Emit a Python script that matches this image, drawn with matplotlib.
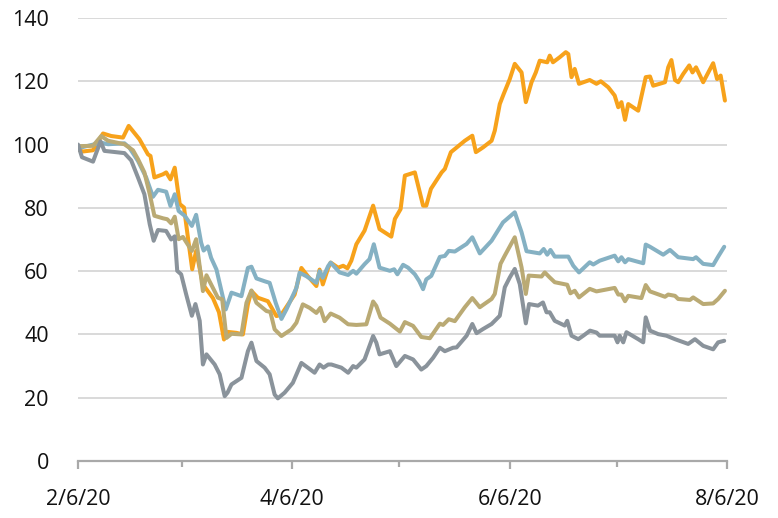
import datetime as dt
import numpy as np
import matplotlib
matplotlib.use("Agg")
import matplotlib.pyplot as plt
import matplotlib.dates as mdates
from matplotlib.ticker import FuncFormatter, FixedLocator

# days after 2020-02-06 and index levels
START = dt.datetime(2020, 2, 6)

orange_days = [0, 1.3, 4.2, 7.0, 9.3, 12.6, 14.2, 17.2, 19.6, 20.3, 21.4, 23.8, 24.7, 25.9, 27.1,
               28.5, 29.7, 30.8, 32.0, 33.1, 35.0, 37.8, 39.5, 40.9, 42.0, 44.4, 46.2, 47.6, 48.6,
               50.4, 53.2, 55.6, 57.0, 60.7, 62.6, 64.4, 66.8, 67.7, 68.6, 70.1, 70.8, 72.9, 74.3,
               75.5, 76.6, 78.0, 80.3, 82.7, 84.5, 87.8, 88.8, 90.4, 91.6, 94.4, 96.7, 97.6, 98.9,
               101.9, 102.8, 104.5, 105.6, 108.4, 110.5, 111.5, 113.5, 115.9, 116.8, 118.2, 119.3,
               121.0, 122.4, 124.3, 125.5, 127.1, 128.3, 129.4, 131.5, 132.2, 133.1, 135.0, 136.7,
               137.4, 138.3, 139.2, 140.4, 143.4, 145.3, 146.5, 148.6, 150.4, 151.4, 152.3, 153.3,
               154.2, 157.0, 159.1, 160.3, 161.2, 164.5, 165.4, 166.3, 167.3, 168.2, 169.6, 171.3,
               172.2, 173.2, 175.2, 178.0, 179.1, 180.1, 181.3]
orange_vals = [98.5, 97.8, 98.2, 103.5, 102.7, 102.2, 105.9, 101.7, 96.9, 96.4, 89.6, 90.6, 91.2, 89, 92.7,
               81.2, 80.1, 70.6, 60.6, 66.4, 55.8, 51.5, 47, 38.4, 40.8, 40.5, 40, 49.5, 53.7,
               51.6, 50.5, 45.8, 46.3, 52.6, 61, 58.4, 55.3, 60.5, 55.8, 61, 62.7, 61.1, 61.7,
               60.9, 63.3, 68.5, 72.8, 80.7, 73.3, 70.9, 76.5, 79.6, 90.2, 91.2, 80.7, 80.7, 86,
               91.2, 92.3, 97.6, 98.6, 101.2, 102.8, 97.6, 99.1, 101.2, 104.4, 112.8, 116,
               120.7, 125.5, 122.8, 113.4, 119.7, 122.8, 126.5, 126, 128.1, 126, 127.6, 129.2,
               128.6, 121.3, 123.9, 119.2, 120.4, 119.2, 120, 118.1, 115.5, 111.8, 113.4, 107.8,
               112.8, 110.7, 121.3, 121.5, 118.6, 119.7, 124.4, 126.7, 120.4, 119.7, 122.3, 125,
               122.8, 124.4, 119.7, 125.7, 120.7, 121.8, 113.9]

blue_days = [0, 1.3, 6.5, 8.4, 13.0, 14.4, 16.8, 19.1, 21.0, 22.4, 24.7, 25.9, 27.1, 28.2, 29.9,
             31.9, 33.1, 34.5, 35.2, 36.4, 37.3, 38.8, 40.2, 41.4, 43.0, 45.8, 47.6, 48.6, 50.0,
             52.3, 53.7, 55.4, 57.0, 58.4, 61.2, 62.1, 64.0, 66.8, 67.7, 68.6, 70.1, 70.8, 73.3,
             75.7, 77.1, 78.0, 80.3, 81.7, 82.9, 84.5, 87.4, 88.6, 89.5, 91.1, 92.5, 94.4, 95.6,
             96.7, 97.6, 99.0, 101.4, 102.8, 103.9, 105.6, 108.9, 110.5, 112.6, 115.9, 119.1,
             122.4, 124.3, 125.7, 129.4, 130.5, 131.5, 132.4, 133.6, 137.4, 138.8, 140.4, 143.4,
             144.4, 146.2, 150.4, 151.4, 152.3, 153.3, 154.2, 158.4, 159.1, 160.3, 164.0, 165.9,
             168.2, 172.4, 173.2, 175.2, 178.0, 179.4, 181.1]
blue_vals = [99, 99.2, 100.6, 100.1, 100.4, 99, 94.8, 89.6, 83.5, 85.7, 85.1, 80.6, 84.3, 79, 77.5,
             74.3, 77.8, 69, 66.5, 67.8, 64.2, 60.5, 53.7, 47.9, 53.2, 52.1, 61, 61.4, 57.7,
             56.8, 56.3, 50, 44.9, 47.9, 54.7, 59.5, 58.4, 56.3, 60, 57.9, 61.6, 62.7, 59.6,
             58.8, 60.1, 59.2, 62.2, 63.8, 68.5, 61.1, 60.1, 60.6, 59, 62, 61.1, 59, 56.9,
             54.3, 57.4, 58.5, 64.5, 64.8, 66.4, 66.2, 68.6, 70.7, 65.6, 69.6, 75.4,
             78.6, 72.3, 66.3, 65.6, 67, 65.2, 66.7, 64.6, 64.6, 61.7, 59.6, 62.8,
             62.1, 63.3, 64.9, 63.1, 64.4, 62.8, 63.8, 62.5, 68.4, 67.7, 65.2, 66.7,
             64.4, 63.8, 64.4, 62.3, 61.9, 64.6, 67.7]

khaki_days = [0, 4.2, 6.5, 8.4, 13.0, 15.4, 16.8, 18.6, 20.1, 21.4, 23.8, 25.0, 26.1, 27.1, 28.2,
              29.4, 31.9, 33.1, 35.0, 36.0, 37.8, 39.2, 40.4, 41.6, 43.0, 45.8, 47.2, 48.6, 50.0,
              52.8, 53.9, 55.1, 57.0, 59.8, 61.2, 63.0, 64.9, 66.8, 67.9, 69.1, 70.8, 73.3, 75.7,
              78.0, 80.8, 82.7, 83.6, 84.8, 87.4, 90.2, 91.6, 93.9, 96.2, 98.6, 101.4, 102.3, 103.9,
              105.6, 108.4, 110.5, 112.6, 115.9, 116.8, 118.4, 119.6, 122.4, 124.3, 125.5, 126.3,
              129.9, 130.8, 132.2, 133.6, 137.1, 138.0, 139.2, 140.4, 143.4, 145.3, 150.4, 151.4,
              152.3, 153.3, 154.2, 157.9, 159.1, 160.3, 164.5, 165.4, 167.3, 168.2, 171.5, 172.4,
              175.2, 178.0, 179.4, 181.3]
khaki_vals = [99.5, 99.6, 102.7, 101.2, 100.1, 98.2, 95.4, 91.2, 84.3, 77.5, 76.7, 76.4, 75.1, 77.2, 70.1,
              70.8, 66.4, 70.1, 53.7, 58.7, 54.7, 51.6, 51.1, 38.9, 40.2, 40, 50, 53.9, 50,
              47.4, 47.1, 41.6, 39.5, 41.6, 43.7, 49.5, 48.4, 46.8, 48.4, 44.2, 46.6, 45.3, 43.2,
              43, 43.2, 50.4, 49, 45.3, 43.4, 40.9, 43.9, 42.7, 39.2, 38.8, 43.4, 43, 44.8,
              44.2, 48.6, 51.5, 48.6, 51.2, 52.8, 62.3, 64.9, 70.7, 61.2, 52.8, 58.6,
              58.3, 59.6, 58, 56.5, 55.7, 53, 53.8, 51.7, 54.4, 53.6, 54.7, 52.6,
              52.6, 50.5, 52.2, 51.5, 55.6, 53.6, 51.9, 52.6, 52.2, 51.2, 50.9, 51.7,
              49.6, 49.8, 51.2, 53.8]

gray_days = [0, 1.1, 4.2, 6.3, 7.4, 13.0, 14.9, 16.8, 18.6, 20.1, 21.2, 22.4, 24.7, 26.1, 27.1,
             27.8, 28.9, 30.3, 31.9, 32.9, 34.1, 35.0, 36.0, 38.3, 39.7, 41.1, 41.9, 43.0, 45.8,
             47.6, 48.6, 50.0, 52.3, 53.7, 55.1, 56.0, 57.9, 60.2, 62.6, 64.4, 66.3, 67.7, 68.8,
             70.1, 71.0, 73.8, 75.7, 77.1, 78.0, 80.3, 82.7, 83.6, 84.5, 87.4, 89.2, 91.6, 93.9,
             96.2, 97.6, 99.5, 101.4, 102.8, 105.1, 106.1, 108.9, 110.5, 111.7, 113.5, 115.9,
             118.2, 119.6, 121.0, 122.4, 123.8, 125.5, 126.4, 128.9, 130.3, 131.3, 132.2, 133.6,
             136.4, 137.1, 138.3, 140.2, 141.6, 143.5, 145.3, 146.2, 150.4, 151.2, 151.8, 152.8,
             153.7, 157.0, 158.4, 159.1, 160.3, 162.6, 164.9, 167.3, 171.0, 172.9, 175.2, 178.0,
             179.4, 181.1]
gray_vals = [100, 96, 94.6, 101, 98, 97.3, 95, 89.6, 84.3, 74.8, 69.6, 73, 72.7, 70, 71,
             60.1, 59, 52.7, 45.9, 49.6, 44.3, 30.5, 33.7, 30.5, 27.4, 20.5, 21.6, 24.2, 26.3,
             34.7, 37.4, 31.6, 29.5, 27.4, 21, 19.8, 21.6, 24.7, 31, 29.5, 27.9, 30.5, 29.5,
             30.5, 30.5, 29.5, 27.9, 30, 29.5, 32.1, 39.5, 37.4, 33.7, 34.7, 30, 33.2, 32.1,
             28.9, 30, 32.6, 35.8, 34.7, 35.8, 35.9, 39.6, 43.3, 40.4, 41.7, 43.3,
             45.9, 54.9, 58, 60.7, 55.9, 43.5, 49.6, 49.1, 50.1, 47, 47, 44.3,
             42.8, 44.3, 39.6, 38.5, 39.6, 41.2, 40.6, 39.6, 39.6, 37.5, 39.6, 37.5,
             40.7, 38.5, 37.5, 45.4, 41.2, 40.1, 39.6, 38.5, 37, 38.5, 36.4, 35.3,
             37.5, 38]

series = [
    (orange_days, orange_vals, "#F7A21B"),
    (blue_days, blue_vals, "#85B1C3"),
    (khaki_days, khaki_vals, "#BAAA74"),
    (gray_days, gray_vals, "#8A939B"),
]

y_ticks = [0, 20, 40, 60, 80, 100, 120, 140]
major_dates = [dt.datetime(2020, m, 6) for m in (2, 4, 6, 8)]
minor_dates = [dt.datetime(2020, m, 6) for m in (3, 5, 7)]


def to_dates(days):
    return [START + dt.timedelta(days=d) for d in days]


plt.rcParams['font.family'] = ['Open Sans', 'DejaVu Sans']

fig = plt.figure(figsize=(7.78, 5.18), dpi=100)
ax = fig.add_axes([0.1003, 0.110, 0.8347, 0.8553])

for days, vals, col in series:
    ax.plot(to_dates(days), vals, color=col, lw=2.9, solid_joinstyle='round',
            solid_capstyle='round', zorder=3)

ax.set_ylim(0, 140)
ax.set_xlim(dt.datetime(2020, 2, 6), dt.datetime(2020, 8, 6))
ax.set_yticks(y_ticks)
for y in y_ticks[1:]:
    ax.axhline(y, color="#D3D3D3", lw=1.2, zorder=1)

ax.xaxis.set_major_locator(FixedLocator(mdates.date2num(major_dates)))
ax.xaxis.set_minor_locator(FixedLocator(mdates.date2num(minor_dates)))
ax.xaxis.set_major_formatter(FuncFormatter(
    lambda v, p: (lambda d: f"{d.month}/{d.day}/{d.year % 100}")(mdates.num2date(v))))

for s in ("top", "right", "left"):
    ax.spines[s].set_visible(False)
ax.spines["bottom"].set_color("#A9A9A9")
ax.spines["bottom"].set_linewidth(1.6)

ax.tick_params(axis='y', length=0, pad=21, labelsize=15.5, labelcolor="#111111")
ax.tick_params(axis='x', which='major', length=6, width=1.6, color="#A9A9A9",
               pad=14, labelsize=15.5, labelcolor="#111111")
ax.tick_params(axis='x', which='minor', length=4, width=1.6, color="#A9A9A9")

fig.savefig("out.png", dpi=100)
